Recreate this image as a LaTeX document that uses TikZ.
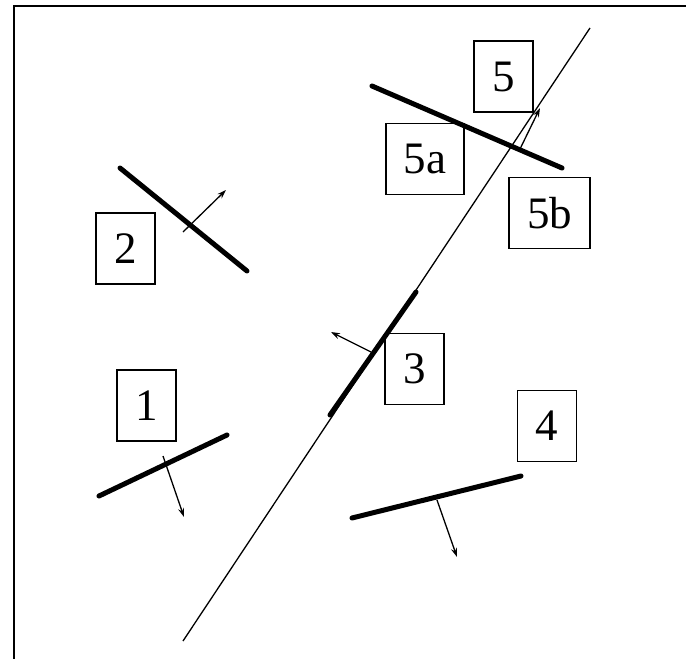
\documentclass[tikz,border=0pt]{standalone}
\usepackage{fontspec}
\setmainfont{Liberation Serif}
\usetikzlibrary{arrows.meta}
\tikzset{
  numbox/.style={draw=black, line width=1.5pt, inner xsep=18pt, inner ysep=0pt,
                 minimum width=59pt, minimum height=71pt,
                 font=\fontsize{45}{50}\selectfont},
  wallseg/.style={line width=5pt, line cap=round},
  normarr/.style={-{Stealth[length=9pt,width=6pt]}, line width=1.3pt},
  rayline/.style={line width=1.3pt},
  framelin/.style={line width=2.4pt},
}

\begin{document}
\begin{tikzpicture}[x=1pt,y=-1pt]
\useasboundingbox (0,0) rectangle (686,659);
% frame
\draw[framelin] (14,659) -- (14,6) -- (686,6);
% ray
\coordinate (rayA) at (183,641);
\coordinate (rayB) at (590,28);
\draw[rayline] (rayA) -- (rayB);
% segments
\coordinate (s1a) at (99,496);  \coordinate (s1b) at (227,435);
\coordinate (s2a) at (120,168); \coordinate (s2b) at (247,271);
\coordinate (s3a) at (330,415); \coordinate (s3b) at (416,292);
\coordinate (s4a) at (352,518); \coordinate (s4b) at (521,476);
\coordinate (s5a) at (372,86);  \coordinate (s5b) at (562,168);
\draw[wallseg] (s1a) -- (s1b);
\draw[wallseg] (s2a) -- (s2b);
\draw[wallseg] (s3a) -- (s3b);
\draw[wallseg] (s4a) -- (s4b);
\draw[wallseg] (s5a) -- (s5b);
% normals
\coordinate (n1a) at (163,456); \coordinate (n1b) at (184,517);
\coordinate (n2a) at (183,232); \coordinate (n2b) at (226,190);
\coordinate (n3a) at (371,352); \coordinate (n3b) at (331,332);
\coordinate (n4a) at (437,500); \coordinate (n4b) at (457,557);
\coordinate (n5a) at (520,149); \coordinate (n5b) at (540,108);
\draw[normarr] (n1a) -- (n1b);
\draw[normarr] (n2a) -- (n2b);
\draw[normarr] (n3a) -- (n3b);
\draw[normarr] (n4a) -- (n4b);
\draw[normarr] (n5a) -- (n5b);
% labels
\node[numbox] (box1) at (146.7,405.3) {1};
\node[numbox] (box2) at (125.7,248.5) {2};
\node[numbox] (box3) at (414.7,369) {3};
\node[numbox] (box4) at (547,426) {4};
\node[numbox] (box5) at (503.5,76.5) {5};
\node[numbox] (box5a) at (425,159) {5a};
\node[numbox] (box5b) at (549.5,213) {5b};
\end{tikzpicture}
\end{document}
